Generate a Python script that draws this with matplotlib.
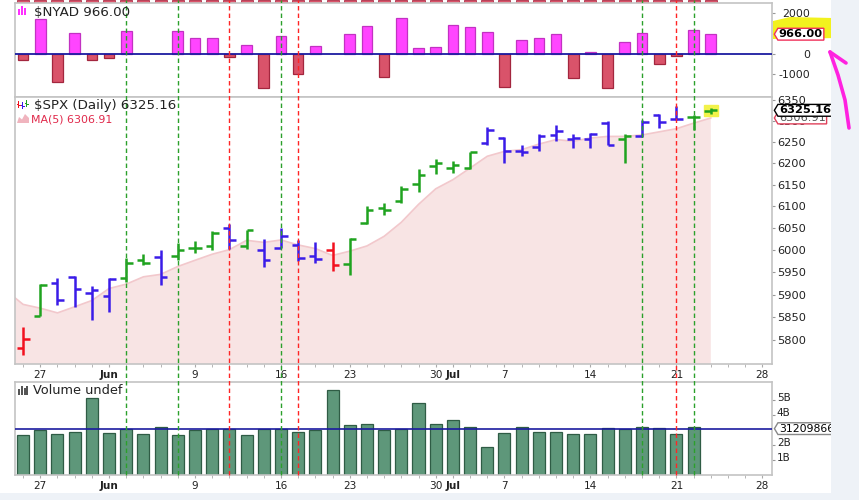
import numpy as np
import matplotlib.pyplot as plt
import matplotlib.transforms as mtransforms
from matplotlib.lines import Line2D
from matplotlib.patches import Rectangle, Polygon
from matplotlib.path import Path
from matplotlib.ticker import FixedLocator, NullLocator

plt.rcParams['font.family'] = ['DejaVu Sans']

# trading days 2025-05-23 .. 2025-07-23 -> index 0..40
n_days = 41
tick_idx = [1, 5, 10, 15, 19, 24, 25, 28, 33, 38, 43]
tick_lab = ['27', 'Jun', '9', '16', '23', '30', 'Jul', '7', '14', '21', '28']
bold_lab = ['Jun', 'Jul']

# $SPX daily bars
spx_open = [5781.9, 5854.1, 5925.5, 5939.9, 5903.7, 5896.7, 5938.6, 5978.9, 5985.7, 5987.1,
            6004.6, 6009.9, 6049.4, 6009.9, 6000.6, 6004.0, 6012.2, 5987.9, 5999.7, 5969.7,
            6061.2, 6097.0, 6112.1, 6150.7, 6193.0, 6189.0, 6188.0, 6246.5, 6259.8, 6229.0,
            6237.6, 6266.0, 6256.0, 6256.0, 6296.0, 6257.0, 6263.7, 6313.0, 6305.0, 6310.0, 6323.0]
spx_high = [5829.5, 5924.3, 5937.5, 5943.1, 5920.0, 5937.4, 5981.4, 5990.5, 5999.7, 6016.9,
            6021.3, 6043.0, 6059.4, 6045.4, 6026.2, 6050.8, 6023.3, 6018.3, 6018.2, 6028.1,
            6101.9, 6108.5, 6146.5, 6187.7, 6211.0, 6206.0, 6227.6, 6284.7, 6262.6, 6242.7,
            6269.8, 6290.2, 6269.6, 6271.0, 6300.0, 6268.0, 6302.0, 6315.6, 6336.1, 6313.0, 6331.0]
spx_low = [5767.4, 5853.6, 5878.0, 5873.8, 5843.7, 5861.4, 5929.0, 5966.1, 5921.2, 5978.6,
           5994.2, 6000.3, 6002.3, 6003.9, 5963.2, 6004.0, 5974.8, 5971.9, 5952.6, 5943.2,
           6059.7, 6080.0, 6107.4, 6132.4, 6175.0, 6177.0, 6186.0, 6244.0, 6201.7, 6217.0,
           6230.0, 6251.2, 6236.0, 6237.0, 6242.4, 6201.6, 6262.0, 6282.0, 6303.0, 6279.0, 6315.5]
spx_close = [5802.8, 5921.5, 5888.6, 5912.2, 5911.7, 5935.9, 5970.4, 5970.8, 5939.3, 6000.4,
             6005.9, 6038.8, 6022.2, 6045.3, 5977.0, 6033.1, 5982.7, 5980.9, 5967.8, 6025.2,
             6092.2, 6092.2, 6141.0, 6173.1, 6201.0, 6195.0, 6227.4, 6279.4, 6230.0, 6225.5,
             6263.3, 6277.0, 6259.8, 6268.6, 6243.8, 6263.7, 6297.4, 6296.8, 6305.6, 6309.6, 6325.16]
spx_col = list('rgbbbbggbgggbgbbbbrggggggggbbbbbbbbgbbbg')
spx_col += ['g']

# MA(5), first value is the day before the first bar
ma5 = [5909.81, 5878.70, 5870.29, 5859.91, 5873.42, 5887.35, 5913.98, 5923.74, 5940.20, 5945.62,
       5963.36, 5977.34, 5991.03, 6001.32, 6022.51, 6017.83, 6023.28, 6012.06, 6003.79, 5988.30,
       5997.94, 6009.76, 6031.64, 6063.67, 6104.72, 6140.68, 6161.84, 6188.89, 6216.56, 6227.94,
       6232.06, 6245.11, 6255.71, 6251.79, 6259.51, 6263.16, 6263.25, 6266.63, 6274.03, 6281.44,
       6294.61, 6306.91]

# $NYAD
nyad = [-300, 1700, -1350, 1040, -300, -180, 1100, None, None, 1100,
        795, 795, -130, 440, -1675, 860, -990, 375, None, 990,
        1350, -1105, 1770, 310, 360, 1400, 1335, 1090, -1595, 670,
        780, 975, -1170, 110, -1675, 600, 1040, -500, -80, 1155, 966]

# volume in billions (last day undef)
volume = [2.70, 3.03, 2.77, 2.90, 5.17, 2.83, 3.08, 2.77, 3.25, 2.68,
          3.03, 3.08, 3.08, 2.68, 3.08, 3.08, 2.90, 3.03, 5.68, 3.35,
          3.43, 3.03, 3.08, 4.83, 3.41, 3.68, 3.25, 1.92, 2.83, 3.25,
          2.90, 2.90, 2.77, 2.77, 3.19, 3.10, 3.25, 3.19, 2.77, 3.25, None]
vol_line = 3.1209866

green_lines = [6, 9, 15, 36, 39]
red_lines = [12, 16, 38]

col_map = {'r': '#F2101E', 'g': '#1FA31F', 'b': '#3A1CE8'}

W, H = 859, 500
fig = plt.figure(figsize=(W / 100, H / 100), dpi=100)


def fx(x):
    return x / W


def fy(y):
    return 1 - y / H


L, R = 15, 772
ax_strip = fig.add_axes([fx(L), fy(3), fx(R - L), 3 / H])
ax_ad = fig.add_axes([fx(L), fy(97), fx(R - L), 94 / H])
ax_px = fig.add_axes([fx(L), fy(364), fx(R - L), 267 / H])
ax_vol = fig.add_axes([fx(L), fy(475), fx(R - L), (475 - 381.7) / H])

x = np.arange(n_days)
xlim = (-0.47, 43.56)
spine_col = '#C4C4C4'
for ax in (ax_ad, ax_px, ax_vol):
    ax.set_xlim(*xlim)
    for s in ax.spines.values():
        s.set_color(spine_col)
        s.set_linewidth(1.2)
    ax.yaxis.tick_right()
    ax.tick_params(axis='y', length=2.5, color='#999999', labelsize=8, pad=1, labelcolor='#222222')

# strip of the panel above (cut off)
ax_strip.bar(x, 1, width=0.7, color='#D9546A', edgecolor='#B03048', lw=0.6)
ax_strip.set_xlim(*xlim)
ax_strip.set_ylim(0, 1)
ax_strip.axis('off')

# ---- NYAD panel
ad = np.array([np.nan if v is None else v for v in nyad], dtype=float)
pos = ad >= 0
neg = (ad < 0)
ax_ad.bar(x[pos], ad[pos], width=0.62, color='#FF45FF', edgecolor='#C232C2', lw=0.9, zorder=2)
ax_ad.bar(x[neg], ad[neg], width=0.62, color='#D9536A', edgecolor='#A3263E', lw=0.9, zorder=2)
ax_ad.axhline(0, color='#1B1BA0', lw=1.3, zorder=3)
ax_ad.set_ylim(-2098, 2488)
ax_ad.set_yticks([2000, 0, -1000], ['2000', '0', '-1000'])
for t in ax_ad.get_yticklabels():
    t.set_ha('right')
ax_ad.tick_params(axis='y', pad=25, labelsize=7.8)
ax_ad.tick_params(axis='x', bottom=False, labelbottom=False)

# ---- SPX panel
ax_px.set_yscale('log')
xm = np.arange(-1, n_days)
ax_px.fill_between(xm, ma5, 5000, color='#F8E4E4', lw=0, zorder=1)
ax_px.plot(xm, ma5, color='#F2C8CC', lw=1.2, zorder=1.5)

last = n_days - 1
ax_px.add_patch(Rectangle((x[last] - 0.42, spx_low[last] - 4), 0.86,
                          spx_high[last] - spx_low[last] + 10, color='#F2F24A', zorder=2))
tw = 0.38
for i in range(n_days):
    c = col_map[spx_col[i]]
    ax_px.vlines(x[i], spx_low[i], spx_high[i], color=c, lw=1.8, zorder=3)
    ax_px.hlines(spx_open[i], x[i] - tw, x[i], color=c, lw=1.8, zorder=3)
    ax_px.hlines(spx_close[i], x[i], x[i] + tw, color=c, lw=1.8, zorder=3)

ax_px.set_ylim(5748, 6357)
yt = list(range(5800, 6351, 50))
ax_px.yaxis.set_major_locator(FixedLocator(yt))
ax_px.set_yticklabels([str(v) for v in yt])
ax_px.yaxis.set_minor_locator(NullLocator())
ax_px.tick_params(axis='y', labelsize=8.2)

# ---- Volume panel
vol = np.array([np.nan if v is None else v for v in volume], dtype=float)
ok = ~np.isnan(vol)
ax_vol.bar(x[ok], vol[ok], width=0.7, color='#5E977A', edgecolor='#2F5C45', lw=0.9, zorder=2)
ax_vol.axhline(vol_line, color='#1B1BA0', lw=1.2, zorder=3)
ax_vol.set_ylim(0.03, 6.25)
ax_vol.set_yticks([1, 2, 4, 5], ['1B', '2B', '4B', '5B'])
ax_vol.tick_params(axis='y', labelsize=7.5)
lift = mtransforms.ScaledTranslation(0, 3 / 100, fig.dpi_scale_trans)
for t in ax_vol.get_yticklabels():
    t.set_transform(t.get_transform() + lift)

# x ticks
for ax in (ax_px, ax_vol):
    ax.set_xticks(tick_idx, tick_lab)
    ax.xaxis.set_minor_locator(FixedLocator(range(0, 44)))
    ax.tick_params(axis='x', which='both', length=2.5, color='#AAAAAA', labelsize=7.6,
                   pad=1.5, labelcolor='#222222')
    for t in ax.get_xticklabels():
        if t.get_text() in bold_lab:
            t.set_fontweight('bold')


# value tags on the right axis
def tag_shape(x0, y0, width, height, mutation_size):
    pad = 0.08 * mutation_size
    x0, y0 = x0 - pad, y0 - pad
    x1, y1 = x0 + width + 2 * pad, y0 + height + 2 * pad
    tip = 0.3 * (y1 - y0)
    ym = 0.5 * (y0 + y1)
    return Path([(x0, y0), (x1, y0), (x1, y1), (x0, y1), (x0 - tip, ym), (x0, y0)], closed=True)


def tag(ax, yv, text, edge, weight='bold', color='black', size=8.2, z=20):
    tr = mtransforms.blended_transform_factory(ax.transAxes, ax.transData)
    ax.text(1.009, yv, text, transform=tr, ha='left', va='center', fontsize=size,
            fontweight=weight, color=color, zorder=z, clip_on=False,
            bbox=dict(boxstyle=tag_shape, fc='white', ec=edge, lw=1.0))


tag(ax_ad, ad[last], '966.00', '#F0305A')
tag(ax_px, ma5[-1], '6306.91', '#E0405A', weight='normal', color='#555555', z=19)
tag(ax_px, spx_close[last], '6325.16', 'black', z=21)
tag(ax_vol, vol_line, '3120986600', '#888888', weight='normal', size=7.8)

# signal lines through all panels
trans = mtransforms.blended_transform_factory(ax_px.transData, fig.transFigure)
for xi in green_lines:
    fig.add_artist(Line2D([xi, xi], [fy(475), 1.0], transform=trans, color='#2BA02B',
                          lw=1.0, ls=(0, (3.2, 2.2)), zorder=5))
for xi in red_lines:
    fig.add_artist(Line2D([xi, xi], [fy(475), 1.0], transform=trans, color='#FF2424',
                          lw=1.0, ls=(0, (3.2, 2.2)), zorder=5))

# panel titles
fig.text(fx(34), fy(12.5), '$NYAD 966.00', fontsize=9.6, color='#222222', va='center', zorder=7)
fig.text(fx(34), fy(105.5), '$SPX (Daily) 6325.16', fontsize=9.6, color='#222222', va='center', zorder=7)
fig.text(fx(31), fy(119.5), 'MA(5) 6306.91', fontsize=7.9, color='#E0284A', va='center', zorder=7)
fig.text(fx(33), fy(390.5), 'Volume undef', fontsize=9.3, color='#222222', va='center', zorder=7)


def px_rect(x0, y0, w, h, color):
    fig.add_artist(Rectangle((fx(x0), fy(y0 + h)), w / W, h / H, transform=fig.transFigure,
                             color=color, lw=0, zorder=6))


# small legend icons
for xo, top in zip([17.5, 20.5, 23.5], [9, 6, 8]):
    px_rect(xo, top, 2.3, 15 - top, '#FF30FF')
for xo, c, top in zip([18, 22, 26], ['#F2101E', '#3A1CE8', '#1FA31F'], [101, 102, 100]):
    px_rect(xo, top, 1.3, 7, c)
    px_rect(xo - 1.5, top + 3, 1.5, 1.2, c)
    px_rect(xo + 1.3, top + 4, 1.5, 1.2, c)
fig.add_artist(Polygon([(fx(17), fy(123)), (fx(19), fy(117)), (fx(22), fy(119.5)), (fx(25), fy(114)),
                        (fx(29), fy(118)), (fx(29), fy(123))], closed=True,
                       transform=fig.transFigure, color='#F0B4BE', lw=0, zorder=6))
for xo, top in zip([17.5, 20.5, 23.5, 26], [389, 386, 388, 386]):
    px_rect(xo, top, 2.0, 395 - top, '#555555')

# background strips of the page
fig.add_artist(Rectangle((fx(831), 0), 1 - fx(831), 1, transform=fig.transFigure,
                         color='#EEF2F7', lw=0, zorder=8))
fig.add_artist(Rectangle((0, 0), 1, 7 / H, transform=fig.transFigure,
                         color='#EEF2F7', lw=0, zorder=8))

# hand-drawn highlight and arrow
hl = [(773, 21), (790, 17), (833, 18), (833, 14), (839, 14), (839, 38), (773, 39)]
fig.add_artist(Polygon([(fx(a), fy(b)) for a, b in hl], closed=True, transform=fig.transFigure,
                       color='#F2F21E', lw=0, zorder=-1))
arrow = [(849, 128), (845, 100), (838, 75), (830, 52)]
fig.add_artist(Line2D([fx(a) for a, b in arrow], [fy(b) for a, b in arrow],
                      transform=fig.transFigure, color='#FF22E0', lw=2.6, zorder=9,
                      solid_capstyle='round'))
barb = [(830, 52), (846, 63)]
fig.add_artist(Line2D([fx(a) for a, b in barb], [fy(b) for a, b in barb],
                      transform=fig.transFigure, color='#FF22E0', lw=2.6, zorder=9,
                      solid_capstyle='round'))

fig.savefig('out.png', dpi=100)
